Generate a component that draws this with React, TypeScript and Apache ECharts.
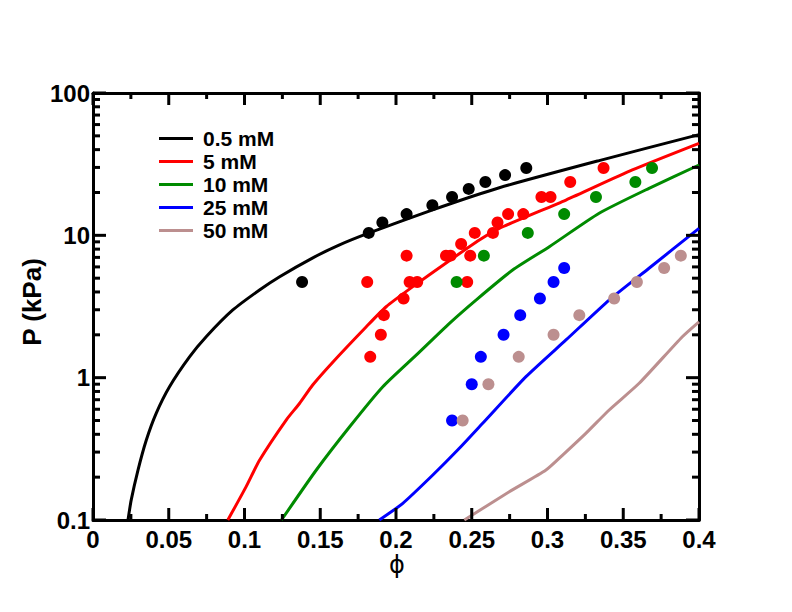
import React, { useEffect, useRef } from "react";
import * as echarts from "echarts";

// ---- data ----
const seriesNames = ["0.5 mM", "5 mM", "10 mM", "25 mM", "50 mM"];
const seriesColors = ["#000000", "#ff0000", "#008b00", "#0000ff", "#bc8f8f"];

const pts05: number[][] = [
  [0.138, 4.7], [0.182, 10.4], [0.191, 12.3], [0.207, 14.1], [0.224, 16.3],
  [0.237, 18.6], [0.248, 21.2], [0.259, 23.7], [0.272, 26.5], [0.286, 29.7],
];
const pts5: number[][] = [
  [0.181, 4.7], [0.183, 1.4], [0.19, 2.0], [0.192, 2.75], [0.205, 3.6],
  [0.207, 7.2], [0.209, 4.7], [0.214, 4.7], [0.233, 7.2], [0.236, 7.2],
  [0.243, 8.7], [0.249, 7.2], [0.247, 4.7], [0.252, 10.4], [0.264, 10.4],
  [0.267, 12.3], [0.274, 14.1], [0.284, 14.1], [0.296, 18.6], [0.302, 18.6],
  [0.315, 23.7], [0.337, 29.7],
];
const pts10: number[][] = [
  [0.24, 4.7], [0.258, 7.2], [0.287, 10.4], [0.311, 14.1], [0.332, 18.6],
  [0.358, 23.7], [0.369, 29.7],
];
const pts25: number[][] = [
  [0.237, 0.5], [0.25, 0.9], [0.256, 1.4], [0.271, 2.0], [0.282, 2.75],
  [0.295, 3.6], [0.304, 4.7], [0.311, 5.9],
];
const pts50: number[][] = [
  [0.244, 0.5], [0.261, 0.9], [0.281, 1.4], [0.304, 2.0], [0.321, 2.75],
  [0.344, 3.6], [0.359, 4.7], [0.377, 5.9], [0.388, 7.2],
];

const line05: number[][] = [
  [0.0231, 0.1], [0.0252, 0.138], [0.0297, 0.2245], [0.0352, 0.365],
  [0.0417, 0.562], [0.0505, 0.864], [0.0637, 1.4], [0.0747, 1.94],
  [0.0923, 2.99], [0.1099, 4.13], [0.1232, 5.12], [0.1451, 6.95],
  [0.162, 8.5], [0.1819, 10.35], [0.2242, 15.1], [0.2682, 21.6], [0.3341, 33.5], [0.4, 51.0],
];
const line5: number[][] = [
  [0.089, 0.1], [0.101, 0.171], [0.11, 0.264], [0.1275, 0.504],
  [0.1364, 0.661], [0.145, 0.888], [0.1584, 1.29], [0.1804, 2.28],
  [0.1935, 3.15], [0.2111, 4.36], [0.234, 6.5], [0.255, 9.27], [0.2682, 11.2],
  [0.3122, 17.7], [0.356, 28.8], [0.4, 44.3],
];
const line10: number[][] = [
  [0.1244, 0.1], [0.1474, 0.2245], [0.1694, 0.452], [0.1913, 0.864],
  [0.2133, 1.44], [0.2353, 2.41], [0.2528, 3.51], [0.277, 5.71],
  [0.3012, 8.32], [0.3341, 14.3], [0.367, 21.4], [0.4, 31.2],
];
const line25: number[][] = [
  [0.189, 0.1], [0.2045, 0.131], [0.2243, 0.207], [0.2407, 0.31],
  [0.2572, 0.478], [0.2858, 1.016], [0.3122, 1.84], [0.3407, 3.51],
  [0.367, 5.87], [0.4, 11.2],
];
const line50: number[][] = [
  [0.2451, 0.1], [0.2748, 0.158], [0.299, 0.2245], [0.31, 0.286],
  [0.3253, 0.406], [0.3407, 0.593], [0.3605, 0.913], [0.389, 1.94], [0.4, 2.47],
];

// tick positions
const xMajorTicks = [0, 0.05, 0.1, 0.15, 0.2, 0.25, 0.3, 0.35, 0.4];
const xMinorTicks = [0.025, 0.075, 0.125, 0.175, 0.225, 0.275, 0.325, 0.375];
const yMajorTicks = [0.1, 1, 10, 100];
const yMinorTicks = [
  0.2, 0.3, 0.4, 0.5, 0.6, 0.7, 0.8, 0.9,
  2, 3, 4, 5, 6, 7, 8, 9,
  20, 30, 40, 50, 60, 70, 80, 90,
];

const lines = [line05, line5, line10, line25, line50];
const points = [pts05, pts5, pts10, pts25, pts50];

const FONT = '"Liberation Sans", Arial, Helvetica, sans-serif';
const X_MIN = 0, X_MAX = 0.4, Y_MIN = 0.1, Y_MAX = 100;

function tickSeries(name: string, values: number[], isX: boolean, len: number) {
  return {
    name,
    type: "custom",
    data: values.map((v) => (isX ? [v, Y_MIN] : [X_MIN, v])),
    silent: true,
    clip: false,
    z: 6,
    renderItem: (_params: any, api: any) => {
      const st = { stroke: "#000", lineWidth: 3 };
      if (isX) {
        const v = api.value(0);
        const pB = api.coord([v, Y_MIN]);
        const pT = api.coord([v, Y_MAX]);
        return {
          type: "group",
          children: [
            { type: "line", shape: { x1: pB[0], y1: pB[1], x2: pB[0], y2: pB[1] - len }, style: st },
            { type: "line", shape: { x1: pT[0], y1: pT[1], x2: pT[0], y2: pT[1] + len }, style: st },
          ],
        };
      }
      const v = api.value(1);
      const pL = api.coord([X_MIN, v]);
      const pR = api.coord([X_MAX, v]);
      return {
        type: "group",
        children: [
          { type: "line", shape: { x1: pL[0], y1: pL[1], x2: pL[0] + len, y2: pL[1] }, style: st },
          { type: "line", shape: { x1: pR[0] - len, y1: pR[1], x2: pR[0], y2: pR[1] }, style: st },
        ],
      };
    },
  };
}

export default function App() {
  const ref = useRef<HTMLDivElement>(null);

  useEffect(() => {
    if (!ref.current) return;
    const chart = echarts.init(ref.current, undefined, { renderer: "svg" });

    const axLine = { color: "#000", width: 3 };
    const xLabelFmt = (v: number) => String(Math.round(v * 100) / 100);
    const yLabelFmt = (v: number) => (v < 1 ? v.toFixed(1) : String(Math.round(v)));

    const xBase = {
      type: "value" as const,
      min: X_MIN,
      max: X_MAX,
      interval: 0.05,
      axisLine: { show: true, onZero: false, lineStyle: axLine },
      axisTick: { show: false },
      minorTick: { show: false },
      splitLine: { show: false },
    };
    const yBase = {
      type: "log" as const,
      logBase: 10,
      min: Y_MIN,
      max: Y_MAX,
      axisLine: { show: true, onZero: false, lineStyle: axLine },
      axisTick: { show: false },
      splitLine: { show: false },
    };

    const series: any[] = [];
    lines.forEach((d, i) => {
      series.push({
        name: seriesNames[i],
        type: "line",
        data: d,
        showSymbol: false,
        symbol: "none",
        smooth: 0.2,
        lineStyle: { color: seriesColors[i], width: 3 },
        itemStyle: { color: seriesColors[i] },
        z: 3,
      });
    });
    points.forEach((d, i) => {
      series.push({
        name: seriesNames[i] + " data",
        type: "scatter",
        data: d,
        symbol: "circle",
        symbolSize: 12,
        itemStyle: { color: seriesColors[i], opacity: 1 },
        z: 4,
      });
    });
    series.push(tickSeries("xmajor", xMajorTicks, true, 12));
    series.push(tickSeries("xminor", xMinorTicks, true, 6));
    series.push(tickSeries("ymajor", yMajorTicks, false, 13));
    series.push(tickSeries("yminor", yMinorTicks, false, 7));

    chart.setOption({
      animation: false,
      backgroundColor: "#ffffff",
      grid: { left: 93, top: 93, width: 606, height: 427, containLabel: false },
      xAxis: [
        {
          ...xBase,
          position: "bottom",
          axisLabel: {
            show: true,
            formatter: xLabelFmt,
            fontSize: 24,
            fontWeight: "bold",
            fontFamily: FONT,
            color: "#000",
            margin: 7,
          },
        },
        { ...xBase, position: "top", axisLabel: { show: false } },
      ],
      yAxis: [
        {
          ...yBase,
          position: "left",
          axisLabel: {
            show: true,
            formatter: yLabelFmt,
            fontSize: 24,
            fontWeight: "bold",
            fontFamily: FONT,
            color: "#000",
            margin: 3,
          },
        },
        { ...yBase, position: "right", axisLabel: { show: false } },
      ],
      legend: {
        orient: "vertical",
        left: 159,
        top: 128,
        padding: 0,
        itemGap: 2,
        itemWidth: 34,
        itemHeight: 3,
        icon: "rect",
        selectedMode: false,
        data: seriesNames,
        textStyle: {
          fontSize: 21,
          fontWeight: "bold",
          fontFamily: FONT,
          color: "#000",
          lineHeight: 21,
          padding: [0, 0, 0, 5],
        },
      },
      graphic: [
        {
          type: "text",
          x: 32,
          y: 302,
          rotation: Math.PI / 2,
          style: {
            text: "P (kPa)",
            fontSize: 26,
            fontWeight: "bold",
            fontFamily: FONT,
            fill: "#000",
            align: "center",
            verticalAlign: "middle",
          },
        },
        {
          type: "text",
          x: 397,
          y: 565,
          style: {
            text: "ϕ",
            fontSize: 24,
            fontFamily: '"DejaVu Sans", sans-serif',
            fill: "#000",
            align: "center",
            verticalAlign: "middle",
          },
        },
      ],
      series,
    });

    return () => chart.dispose();
  }, []);

  return (
    <div
      ref={ref}
      style={{ position: "fixed", left: 0, top: 0, width: 792, height: 612, background: "#fff" }}
    />
  );
}
